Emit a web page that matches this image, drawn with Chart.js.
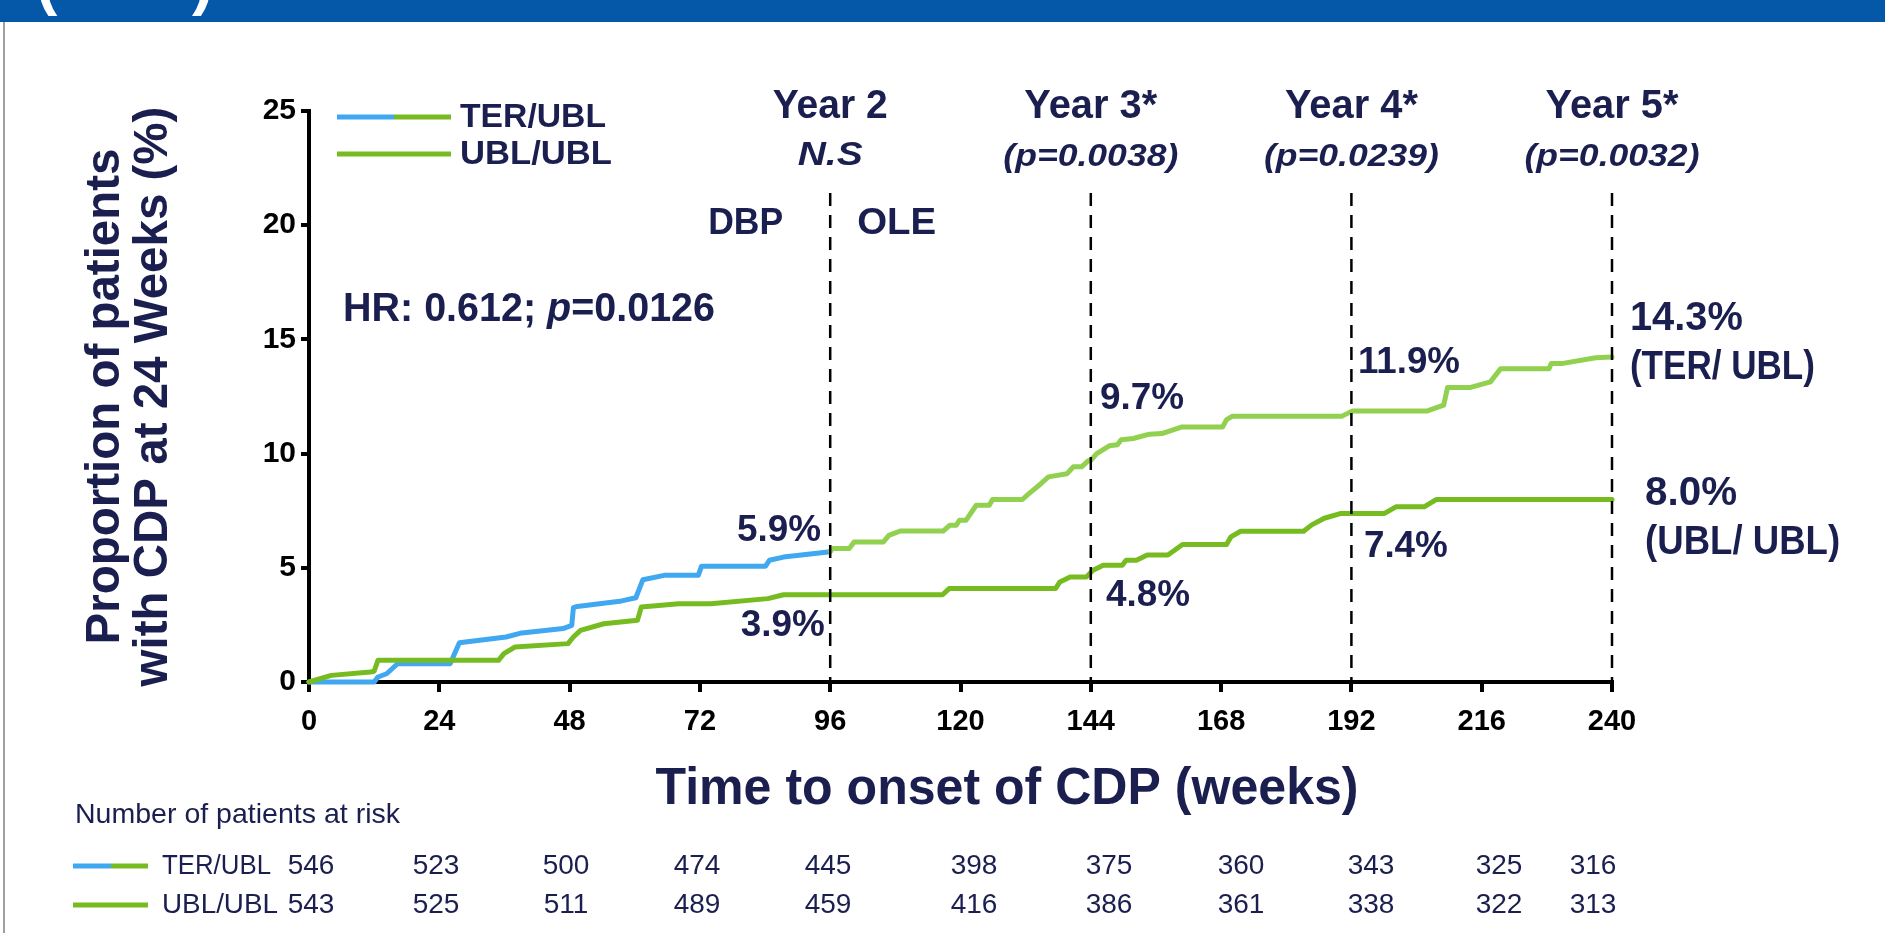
<!DOCTYPE html>
<html>
<head>
<meta charset="utf-8">
<script src="https://cdn.jsdelivr.net/npm/chart.js@4.4.1/dist/chart.umd.min.js"></script>
<style>
html,body{margin:0;padding:0;background:#fff;overflow:hidden}
canvas{display:block}
</style>
</head>
<body>
<canvas id="c" width="1885" height="933"></canvas>
<script>
// ---------------- DATA ----------------
const xTicks = [0, 24, 48, 72, 96, 120, 144, 168, 192, 216, 240];
const yTicks = [0, 5, 10, 15, 20, 25];

// TER/UBL during double-blind period (weeks 0-96)
const terDbpWeeks = [0, 12.0, 12.7, 14.3, 16.3, 26.0, 27.7, 36.3, 39.2, 46.8, 48.4, 48.7, 49.4, 57.6, 60.2, 61.5, 65.4, 71.7, 72.3, 84.1, 84.8, 87.4, 95.6, 96];
const terDbpPct   = [0, 0, 0.22, 0.36, 0.80, 0.80, 1.72, 1.97, 2.15, 2.34, 2.48, 3.26, 3.31, 3.55, 3.69, 4.48, 4.67, 4.67, 5.07, 5.07, 5.33, 5.47, 5.69, 5.72];

// TER/UBL during open-label extension (weeks 96-240)
const terOleWeeks = [96, 96.4, 99.5, 100.4, 105.8, 106.8, 108.9, 116.8, 118.0, 119.2, 119.8, 121.0, 122.9, 125.3, 125.9, 131.4, 132.6, 134.7, 136.2, 139.6, 140.8, 142.3, 143.5, 144.0, 145.1, 147.4, 148.9, 149.6, 151.8, 154.8, 157.1, 160.8, 168.3, 169.0, 170.1, 190.3, 192.2, 206.0, 209.0, 209.7, 213.8, 217.6, 219.5, 228.4, 228.8, 230.7, 237.0, 240];
const terOlePct   = [5.72, 5.84, 5.84, 6.13, 6.13, 6.42, 6.61, 6.61, 6.86, 6.86, 7.08, 7.08, 7.74, 7.74, 7.99, 7.99, 8.25, 8.66, 8.98, 9.12, 9.42, 9.42, 9.68, 9.71, 10.0, 10.34, 10.39, 10.61, 10.66, 10.85, 10.88, 11.17, 11.17, 11.49, 11.64, 11.64, 11.87, 11.87, 12.12, 12.89, 12.89, 13.14, 13.72, 13.72, 13.94, 13.94, 14.2, 14.23];

// UBL/UBL
const ublWeeks = [0, 4.1, 11.3, 12.0, 12.7, 34.9, 35.9, 37.9, 47.7, 48.7, 50.0, 54.3, 60.5, 61.2, 68.1, 74.0, 84.5, 87.4, 116.7, 117.9, 137.5, 138.3, 140.2, 143.2, 144.4, 146.3, 149.8, 150.5, 152.4, 154.4, 158.2, 160.9, 169.0, 169.8, 171.6, 183.2, 184.7, 187.0, 190.1, 198.1, 200.2, 205.4, 207.6, 240];
const ublPct   = [0, 0.29, 0.44, 0.47, 0.95, 0.95, 1.24, 1.53, 1.68, 1.97, 2.26, 2.55, 2.70, 3.28, 3.43, 3.43, 3.65, 3.82, 3.82, 4.09, 4.09, 4.38, 4.60, 4.60, 4.89, 5.11, 5.11, 5.33, 5.33, 5.56, 5.56, 6.02, 6.02, 6.35, 6.60, 6.60, 6.88, 7.17, 7.38, 7.38, 7.67, 7.67, 7.99, 7.99];

const seriesNames = ['TER/UBL', 'UBL/UBL'];
const atRiskTer = [546, 523, 500, 474, 445, 398, 375, 360, 343, 325, 316];
const atRiskUbl = [543, 525, 511, 489, 459, 416, 386, 361, 338, 322, 313];

const milestoneWeeks = [96, 144, 192, 240];
const milestoneYears = ['Year 2', 'Year 3*', 'Year 4*', 'Year 5*'];
const milestonePvals = ['N.S', '(p=0.0038)', '(p=0.0239)', '(p=0.0032)'];

// point labels: [text, week, pct, align]
const pointLabels = [
  ['5.9%', 94.3, 6.69, 'right'],
  ['3.9%', 95.0, 2.57, 'right'],
  ['9.7%', 145.7, 12.47, 'left'],
  ['4.8%', 146.8, 3.88, 'left'],
  ['11.9%', 193.2, 14.05, 'left'],
  ['7.4%', 194.3, 5.99, 'left']
];
const endLabels = [
  ['14.3%', '(TER/ UBL)', 243.3, 15.89, 13.74],
  ['8.0%', '(UBL/ UBL)', 246.1, 8.22, 6.07]
];

// ---------------- STYLE / LAYOUT ----------------
const FAM = "'Liberation Sans', Arial, Helvetica, sans-serif";
const NAVY = '#1b1f4f';
const BLUE = '#40a8f0';
const LIGHT_GREEN = '#92d050';
const GREEN = '#76bc21';
const HEADER_H = 22;
// column centres of the at-risk table (as typeset in the slide)
const tableCols = [311, 436, 566, 697, 828, 974, 1109, 1241, 1371, 1499, 1593];

const toPts = (w, p) => w.map((x, i) => ({x: x, y: p[i]}));

function drawRuns(c, runs, x, y, opts) {
  const size = opts.size, weight = opts.weight || 'bold';
  let total = 0;
  const widths = runs.map(r => {
    c.font = `${r.style || 'normal'} ${weight} ${size}px ${FAM}`;
    const w = c.measureText(r.t).width; total += w; return w;
  });
  const sx = opts.width ? opts.width / total : 1;
  const drawn = total * sx;
  const x0 = opts.align === 'center' ? x - drawn / 2 : opts.align === 'right' ? x - drawn : x;
  c.save();
  c.fillStyle = opts.color || NAVY;
  c.textBaseline = 'middle';
  c.textAlign = 'left';
  c.translate(x0, y);
  c.scale(sx, 1);
  let cx = 0;
  runs.forEach((r, i) => {
    c.font = `${r.style || 'normal'} ${weight} ${size}px ${FAM}`;
    c.fillText(r.t, cx, 0);
    cx += widths[i];
  });
  c.restore();
}
function txt(c, s, x, y, opts) { drawRuns(c, [{t: s, style: opts.style}], x, y, opts); }

const decor = {
  id: 'decor',
  beforeDraw(chart) {
    const c = chart.ctx;
    c.save();
    c.fillStyle = '#fff';
    c.fillRect(0, 0, chart.width, chart.height);
    c.fillStyle = '#0558a8';
    c.fillRect(0, 0, chart.width, HEADER_H);
    c.fillStyle = '#fff';
    c.font = `bold 64px ${FAM}`;
    c.textBaseline = 'alphabetic';
    c.fillText('(', 36, 3);
    c.fillText(')', 192, 3);
    c.strokeStyle = '#a0a0a0';
    c.lineWidth = 2;
    c.beginPath(); c.moveTo(4, HEADER_H); c.lineTo(4, chart.height); c.stroke();
    c.restore();
  },
  afterDatasetsDraw(chart) {
    const c = chart.ctx;
    const xs = chart.scales.x, ys = chart.scales.y;
    const X = v => xs.getPixelForValue(v), Y = v => ys.getPixelForValue(v);

    // dashed milestone lines
    c.save();
    c.strokeStyle = '#000';
    c.lineWidth = 2.5;
    c.setLineDash([13, 9]);
    milestoneWeeks.forEach(w => {
      c.beginPath(); c.moveTo(X(w), 193); c.lineTo(X(w), Y(0)); c.stroke();
    });
    c.restore();

    // milestone headings
    milestoneWeeks.forEach((w, i) => {
      txt(c, milestoneYears[i], X(w), 107, {size: 40, color: NAVY, align: 'center', width: i === 0 ? 115 : 133});
      if (i === 0) {
        txt(c, milestonePvals[i], X(w), 156, {size: 34, style: 'italic', color: NAVY, align: 'center', width: 65});
      } else {
        txt(c, milestonePvals[i], X(w), 157, {size: 32, style: 'italic', color: NAVY, align: 'center', width: 175});
      }
    });
    txt(c, 'DBP', X(96) - 47, 224, {size: 37, color: NAVY, align: 'right', width: 75});
    txt(c, 'OLE', X(96) + 27, 224, {size: 37, color: NAVY, align: 'left', width: 79});

    // HR
    drawRuns(c, [{t: 'HR: 0.612; '}, {t: 'p', style: 'italic'}, {t: '=0.0126'}], 343, 310, {size: 40, color: NAVY, width: 372});

    // legend
    c.save();
    c.lineWidth = 5;
    c.strokeStyle = BLUE; c.beginPath(); c.moveTo(337, 117); c.lineTo(394, 117); c.stroke();
    c.strokeStyle = GREEN; c.beginPath(); c.moveTo(394, 117); c.lineTo(451, 117); c.stroke();
    c.beginPath(); c.moveTo(337, 154); c.lineTo(451, 154); c.stroke();
    c.restore();
    txt(c, seriesNames[0], 460, 118, {size: 34, color: NAVY, width: 146});
    txt(c, seriesNames[1], 460, 155, {size: 34, color: NAVY, width: 152});

    // point labels
    pointLabels.forEach(([t, w, p, al]) => {
      txt(c, t, X(w), Y(p) + 2, {size: 37, color: NAVY, align: al, width: t.length === 5 ? 102 : 84});
    });
    endLabels.forEach(([t1, t2, w, p1, p2], i) => {
      txt(c, t1, X(w), Y(p1), {size: 40, color: NAVY, width: i === 0 ? 113 : 92});
      txt(c, t2, X(w), Y(p2), {size: 40, color: NAVY, width: i === 0 ? 185 : 195});
    });

    // x-axis title
    txt(c, 'Time to onset of CDP (weeks)', 1007, 790, {size: 52, color: NAVY, align: 'center', width: 703});

    // number at risk table
    txt(c, 'Number of patients at risk', 75, 815, {size: 28, weight: 'normal', color: NAVY, width: 325});
    c.save();
    c.lineWidth = 5;
    c.strokeStyle = BLUE; c.beginPath(); c.moveTo(73, 866); c.lineTo(111, 866); c.stroke();
    c.strokeStyle = GREEN; c.beginPath(); c.moveTo(111, 866); c.lineTo(148, 866); c.stroke();
    c.beginPath(); c.moveTo(73, 905); c.lineTo(148, 905); c.stroke();
    c.restore();
    txt(c, seriesNames[0], 162, 866, {size: 28, weight: 'normal', color: NAVY, width: 109});
    txt(c, seriesNames[1], 162, 905, {size: 28, weight: 'normal', color: NAVY, width: 116});
    tableCols.forEach((cx, i) => {
      txt(c, String(atRiskTer[i]), cx, 866, {size: 28, weight: 'normal', color: NAVY, align: 'center'});
      txt(c, String(atRiskUbl[i]), cx, 905, {size: 28, weight: 'normal', color: NAVY, align: 'center'});
    });
  }
};

const lineDs = (label, data, color) => ({
  label: label, data: data, showLine: true, borderColor: color, backgroundColor: color,
  borderWidth: 5, pointRadius: 0, tension: 0, clip: 10, borderJoinStyle: 'round', borderCapStyle: 'round'
});

new Chart(document.getElementById('c'), {
  type: 'scatter',
  data: {
    datasets: [
      lineDs('UBL/UBL', toPts(ublWeeks, ublPct), GREEN),
      lineDs('TER/UBL (OLE)', toPts(terOleWeeks, terOlePct), LIGHT_GREEN),
      lineDs('TER/UBL (DBP)', toPts(terDbpWeeks, terDbpPct), BLUE)
    ]
  },
  options: {
    responsive: false,
    animation: false,
    devicePixelRatio: 1,
    layout: {padding: {left: 0, right: 273, top: 111, bottom: 0}},
    plugins: {legend: {display: false}, tooltip: {enabled: false}},
    scales: {
      x: {
        type: 'linear', min: 0, max: 240,
        afterBuildTicks: s => { s.ticks = xTicks.map(v => ({value: v})); },
        ticks: {font: {family: FAM, size: 29, weight: 'bold'}, color: '#000', padding: 13, maxRotation: 0, autoSkip: false},
        grid: {display: true, drawOnChartArea: false, drawTicks: true, tickLength: 10, lineWidth: 4, color: '#000'},
        border: {display: true, width: 4, color: '#000'},
        afterFit: s => { s.height = 251; }
      },
      y: {
        type: 'linear', min: 0, max: 25,
        afterBuildTicks: s => { s.ticks = yTicks.map(v => ({value: v})); },
        ticks: {font: {family: FAM, size: 30, weight: 'bold'}, color: '#000', padding: 5},
        grid: {display: true, drawOnChartArea: false, drawTicks: true, tickLength: 8, lineWidth: 4, color: '#000'},
        border: {display: true, width: 4, color: '#000'},
        title: {
          display: true,
          text: ['Proportion of patients', 'with CDP at 24 Weeks (%)'],
          color: NAVY,
          font: {family: FAM, size: 47.5, weight: 'bold', lineHeight: 1.01},
          padding: {top: 82, bottom: 0}
        },
        afterFit: s => { s.width = 309; }
      }
    }
  },
  plugins: [decor]
});
</script>
